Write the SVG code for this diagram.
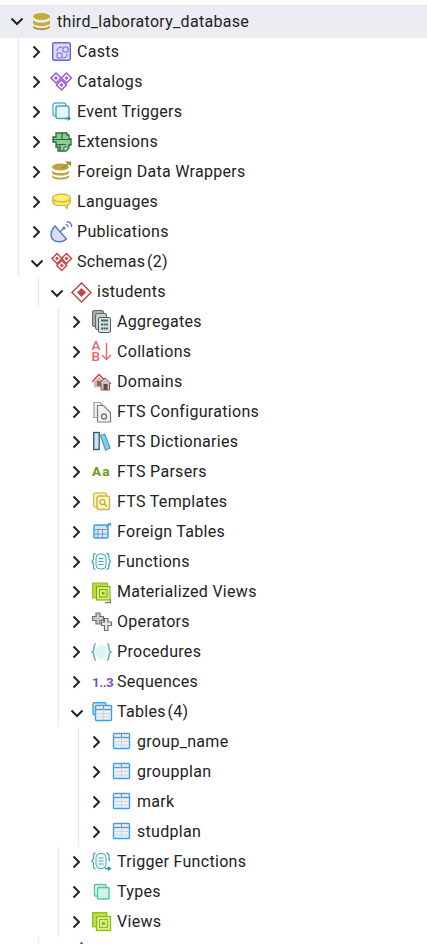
<svg xmlns="http://www.w3.org/2000/svg" width="427" height="944" viewBox="0 0 427 944">
<style>
text{font-family:Roboto,"Liberation Sans",sans-serif;font-size:16px;fill:#222;letter-spacing:.3px}
text.n{word-spacing:-2.500px}
.g{stroke:#e8eaf1;stroke-width:1.500;fill:none}
.c{stroke:#1a2433;stroke-width:2;fill:none}
</style>
<defs>
<path id="r" class="c" d="M-3.500-5.500 2 0-3.500 5.500"/>
<path id="d" class="c" d="M-5.500-2.500 0 3 5.500-2.500"/>
<g id="tbl"><rect x="-8" y="-7.500" width="16" height="15" rx="1" fill="#eef1f4" stroke="#3f9fe8" stroke-width="1.400"/><path d="M-8-3.500H8" stroke="#3f9fe8" stroke-width="1.400"/><path d="M0-7.500V-3.500" stroke="#3f9fe8"/><path d="M-7 0.500H7M-7 4H7" stroke="#cfd4d8" stroke-width="1"/><path d="M0-3.500V7" stroke="#cfd4d8"/></g>
<g id="dia"><path d="M0-5 5 0 0 5-5 0Z" fill="none" stroke="currentColor" stroke-width="1.500"/><path d="M0-2 2 0 0 2-2 0Z" fill="currentColor"/></g>
</defs>
<rect x="0" y="5" width="427" height="33" fill="#ebedf2"/>
<g id="connectors">
<path class="g" d="M18.500 38V277M38.500 277V307M58.500 307V727M78.500 727V847M58.500 847V937M38.500 937V944"/>
</g>
<g id="node-db"><use href="#d" x="17" y="21"/><ellipse cx="41.500" cy="16.500" rx="8.500" ry="3.500" fill="#c5ac3a"/><path d="M33 20c2 3.500 15 3.500 17 0v3.500c-2 3.500-15 3.500-17 0Z" fill="#c5ac3a"/><path d="M33 25.500c2 3.500 15 3.500 17 0v2c-2 3.500-15 3.500-17 0Z" fill="#b09a30"/><text x="57" y="27">third_laboratory_database</text></g>
<g id="node-casts"><use href="#r" x="37" y="52"/><rect x="52.700" y="42.700" width="17.600" height="17.600" rx="2" fill="#dcd9f7" stroke="#6a63cf" stroke-width="1.400"/><rect x="57" y="53" width="5" height="5" rx="1" fill="none" stroke="#6a63cf"/><rect x="63" y="47" width="5" height="5" rx="1" fill="none" stroke="#6a63cf"/><path d="M57 51c0-3 2-4 5-4M67 54c0 2-1 4-4 4" fill="none" stroke="#6a63cf"/><text x="77" y="57">Casts</text></g>
<g id="node-catalogs"><use href="#r" x="37" y="82"/><g color="#9c59c9"><use href="#dia" x="56" y="78"/><use href="#dia" x="66.500" y="78"/><use href="#dia" x="61.500" y="85"/></g><text x="77" y="87">Catalogs</text></g>
<g id="node-event-triggers"><use href="#r" x="37" y="112"/><rect x="53" y="103" width="13" height="13" rx="2.500" fill="#eef9fa" stroke="#5eb5c4" stroke-width="1.400"/><rect x="56" y="106" width="13" height="12.500" rx="2" fill="#e6f7f8" stroke="#4ba3b5" stroke-width="1.400"/><path d="M65 118.500h4" stroke="#2d8ca3" stroke-width="1.500"/><path d="M68 116l3 2.500-3 2.500Z" fill="#2d8ca3"/><text x="77" y="117">Event Triggers</text></g>
<g id="node-extensions"><use href="#r" x="37" y="142"/><path d="M56 133h11v2h2v4h2v6h-2v3l-3 3h-8v-4h-2v-5h-3v-5h3Z" fill="#8ccb94" stroke="#2a6b35" stroke-width="1.300"/><path d="M53 139.500H70M56 144.500H66M62 133.500V139M60 145v6" stroke="#2a6b35" stroke-width="1.200"/><path d="M64 151v-4h5" fill="#d9efd0" stroke="#2a6b35"/><text x="77" y="147">Extensions</text></g>
<g id="node-fdw"><use href="#r" x="37" y="172"/><ellipse cx="60.500" cy="167" rx="8.500" ry="3.500" fill="#bca53c"/><path d="M52 170.500c2 3.500 15 3.500 17 0v2.500c-2 3.500-15 3.500-17 0ZM52 175c2 3.500 15 3.500 17 0v2c-2 3.500-15 3.500-17 0Z" fill="#bca53c"/><path d="M63 168l6-5" stroke="#a08c2c" stroke-width="1.600" fill="none"/><path d="M65 161.500h6v5Z" fill="#a08c2c"/><text x="77" y="177">Foreign Data Wrappers</text></g>
<g id="node-languages"><use href="#r" x="37" y="202"/><path d="M52.500 200c0 3 2 5 4.500 5.500h8l2 3 .5-3.500c2-.5 3-3 3-5Z" fill="#fbe96a" stroke="#c4b23a" stroke-width="1.200"/><ellipse cx="61.500" cy="198" rx="9" ry="3.800" fill="#fdf07a" stroke="#c4b23a" stroke-width="1.200"/><text x="77" y="207">Languages</text></g>
<g id="node-publications"><use href="#r" x="37" y="232"/><path d="M55 226c-5 5-5 11-1.500 14s10 2 13-1Z" fill="#d5deef" stroke="#5c76b5" stroke-width="1.400"/><path d="M60 232l4-4" stroke="#5c76b5" stroke-width="1.200"/><path d="M65.500 225c1-1 2.500 0 2.500 2M66.500 222c3-1 5.500 2 5 5" stroke="#5c76b5" fill="none" stroke-width="1.200"/><circle cx="64" cy="228" r="1.500" fill="#5c76b5"/><text x="77" y="237">Publications</text></g>
<g id="node-schemas"><use href="#d" x="37" y="263"/><g color="#c5474c"><use href="#dia" x="57" y="258.500"/><use href="#dia" x="66.500" y="258.500"/><use href="#dia" x="61.700" y="265.500"/></g><text class="n" x="77" y="267">Schemas (2)</text></g>
<g id="node-istudents"><use href="#d" x="57" y="293"/><path d="M81.500 283 91 292.500 81.500 302 72 292.500Z" fill="none" stroke="#b94a4f" stroke-width="1.500"/><path d="M81.500 288 86 292.500 81.500 297 77 292.500Z" fill="#c5474c"/><text x="97" y="297">istudents</text></g>
<g id="node-aggregates"><use href="#r" x="77" y="322"/><rect x="92.500" y="310.500" width="11" height="16" rx="1.500" fill="#a9aeb0" stroke="#5f686b"/><rect x="95.500" y="313.500" width="11" height="16" rx="1.500" fill="#c6cbcc" stroke="#5f686b"/><rect x="98.500" y="317.500" width="12" height="15" rx="1.500" fill="#d7e4e6" stroke="#4f5b5e"/><path d="M101 320.500h7" stroke="#3f6b5a" stroke-width="2"/><path d="M101 324.500h7M101 328.500h7" stroke="#4f5b5e" stroke-width="2" stroke-dasharray="2 .5"/><text x="117" y="327">Aggregates</text></g>
<g id="node-collations"><use href="#r" x="77" y="352"/><text style="font-size:13.500px;fill:#e2686c;font-weight:500;letter-spacing:0"><tspan x="91.500" y="350">A</tspan><tspan x="91.500" y="361">B</tspan></text><path d="M106.500 343V359.500M102 355l4.500 4.500 4.500-4.500" stroke="#e2686c" stroke-width="1.400" fill="none"/><text x="117" y="357">Collations</text></g>
<g id="node-domains"><use href="#r" x="77" y="382"/><path d="M92 382l7-7.500 5.500 5.500" fill="none" stroke="#c5474c" stroke-width="1.500"/><path d="M94 381.500l5-4.500 4 3.500v7H94Z" fill="#cdb9a8"/><rect x="97" y="381" width="4" height="5" fill="#8a6a48"/><path d="M100 382.500l5-4.500 6 5.500h-1.500v6.500H101v-6.500Z" fill="#c3c8ca" stroke="#a94a4f"/><rect x="103.500" y="384" width="4" height="6" fill="#6d4b32"/><text x="117" y="387">Domains</text></g>
<g id="node-fts-config"><use href="#r" x="77" y="412"/><path d="M94 402.500h6l3 3v12h-9Z" fill="#f3f3f3" stroke="#9a9fa1" stroke-width="1.200"/><path d="M97.500 405.500h6l7 7v9.500H97.500Z" fill="#f3f3f3" stroke="#777c7e" stroke-width="1.200"/><circle cx="104" cy="416.500" r="2.500" fill="none" stroke="#777c7e" stroke-width="1.500"/><text x="117" y="417">FTS Configurations</text></g>
<g id="node-fts-dict"><use href="#r" x="77" y="442"/><rect x="93.700" y="432.500" width="5.500" height="17" fill="#cfe2ee" stroke="#34556e" stroke-width="1.300"/><path d="M100.500 435.500l4-1.500 5.500 14-4.500 2Z" fill="#8fcbe6" stroke="#3f9fcf" stroke-width="1.300"/><text x="117" y="447">FTS Dictionaries</text></g>
<g id="node-fts-parsers"><use href="#r" x="77" y="472"/><text x="92" y="476" style="font-size:13.500px;font-weight:700;fill:#6a9a12;letter-spacing:1.300px">Aa</text><text x="117" y="477">FTS Parsers</text></g>
<g id="node-fts-templates"><use href="#r" x="77" y="502"/><rect x="93.700" y="493" width="12.500" height="14" rx="2" fill="#fdf7c8" stroke="#d6c24a" stroke-width="1.400"/><rect x="97" y="496" width="12.500" height="13.500" rx="2" fill="#fdf7c8" stroke="#c9b53a" stroke-width="1.400"/><circle cx="102.500" cy="502" r="2.500" fill="none" stroke="#b8a62e" stroke-width="1.200"/><path d="M104.500 504l2.500 2.500" stroke="#b8a62e" stroke-width="1.200"/><text x="117" y="507">FTS Templates</text></g>
<g id="node-foreign-tables"><use href="#r" x="77" y="532"/><rect x="94" y="525" width="14" height="13" rx="1" fill="#cfe6fa" stroke="#3f9fe8" stroke-width="1.500"/><rect x="98" y="530" width="9" height="7" fill="#e4e7ea"/><path d="M98 529V538M102.500 530V538M94 529.500H108M94 534H108" stroke="#3f9fe8" stroke-width=".9"/><path d="M106 527l4-3.500" stroke="#3f9fe8" stroke-width="1.200" fill="none"/><path d="M107.500 523h3.500v3.500Z" fill="#3f9fe8"/><text x="117" y="537">Foreign Tables</text></g>
<g id="node-functions"><use href="#r" x="77" y="562"/><path d="M95.500 553.500c-2.500 0-2 3-2 4.500 0 2-1.500 3.500-1.500 3.500s1.500 1 1.500 3.500c0 1.500-.5 4.500 2 4.500M106.500 553.500c2.500 0 2.500 3 2.500 4.500 0 2 1.500 3.500 1.500 3.500s-1.500 1-1.500 3.500c0 1.500 0 4.500-2.500 4.500" fill="none" stroke="#4ba3b5" stroke-width="1.300"/><rect x="96" y="554" width="10" height="15" rx="4" fill="#eef9fa" stroke="#4ba3b5" stroke-width="1"/><path d="M98.500 558.500h5M98.500 561.500h5M98.500 564.500h5" stroke="#4ba3b5" stroke-width="1.200"/><text x="117" y="567">Functions</text></g>
<g id="node-mat-views"><use href="#r" x="77" y="592"/><rect x="92.500" y="583" width="15" height="15" fill="#b5dc3f" stroke="#8ebc1f"/><rect x="96.500" y="586.500" width="13.500" height="13.500" fill="#d4ec7a" stroke="#7fa818"/><rect x="99.500" y="589.500" width="7.500" height="7.500" fill="none" stroke="#7fa818"/><rect x="102" y="592" width="2.500" height="2.500" fill="#7fa818"/><path d="M105 602.500h5.500v-3" stroke="#7a8a50" fill="none" stroke-width="1.300"/><text x="117" y="597">Materialized Views</text></g>
<g id="node-operators"><use href="#r" x="77" y="622"/><path d="M92.500 616.500h3.500v-3.500h4v3.500h3.500v4h-3.500v3.500h-4v-3.500h-3.500Z" fill="#c6cacb" stroke="#6b7173" stroke-width="1.200"/><path d="M101.500 622h3v-3.500h3.500v3.500h3.500v3.500h-3.500v5h-3.500v-5h-3Z" fill="#e5e7e8" stroke="#6b7173" stroke-width="1.200"/><text x="117" y="627">Operators</text></g>
<g id="node-procedures"><use href="#r" x="77" y="652"/><ellipse cx="101.500" cy="652" rx="6.500" ry="7.500" fill="#dff5f5"/><path d="M96 643.500c-2.500 1-2 4-2 5.500s-2 3-2 3 2 1 2 3 0 4.500 2 5.500M107 643.500c2.500 1 2 4 2 5.500s2 3 2 3-2 1-2 3 0 4.500-2 5.500" fill="none" stroke="#4ba3b5" stroke-width="1.300"/><text x="117" y="657">Procedures</text></g>
<g id="node-sequences"><use href="#r" x="77" y="682"/><text x="92" y="687" style="font-size:13.500px;font-weight:700;fill:#7b55c4;letter-spacing:-.5px">1..3</text><text x="117" y="687">Sequences</text></g>
<g id="node-tables"><use href="#d" x="77" y="713"/><rect x="93" y="702.700" width="13" height="12" rx="1" fill="#d8eafa" stroke="#3f9fe8" stroke-width="1.400"/><use href="#tbl" x="103.500" y="713"/><text class="n" x="117" y="717">Tables (4)</text></g>
<g id="node-group-name"><use href="#r" x="97" y="742"/><use href="#tbl" x="121.500" y="741"/><text x="137" y="747">group_name</text></g>
<g id="node-groupplan"><use href="#r" x="97" y="772"/><use href="#tbl" x="121.500" y="771"/><text x="137" y="777">groupplan</text></g>
<g id="node-mark"><use href="#r" x="97" y="802"/><use href="#tbl" x="121.500" y="801"/><text x="137" y="807">mark</text></g>
<g id="node-studplan"><use href="#r" x="97" y="832"/><use href="#tbl" x="121.500" y="831"/><text x="137" y="837">studplan</text></g>
<g id="node-trigger-functions"><use href="#r" x="77" y="862"/><path d="M95.500 853c-2.500 0-2 3-2 4.500 0 2-1.500 3.500-1.500 3.500s1.500 1 1.500 3.500c0 1.500-.5 4.500 2 4.500M106.500 853c2.500 0 2.500 3 2.500 4.500 0 2 1 3.500 1 3.500" fill="none" stroke="#4ba3b5" stroke-width="1.300"/><rect x="96" y="853.500" width="10" height="15" rx="4" fill="#eef9fa" stroke="#4ba3b5" stroke-width="1"/><path d="M98.500 858h5M98.500 861h5M98.500 864h5" stroke="#4ba3b5" stroke-width="1.200"/><path d="M105 868.500h4" stroke="#2d8ca3" stroke-width="1.500"/><path d="M108 866l3.500 2.500-3.500 2.500Z" fill="#2d8ca3"/><text x="117" y="867">Trigger Functions</text></g>
<g id="node-types"><use href="#r" x="77" y="892"/><rect x="94.500" y="884.500" width="11.500" height="11.500" rx="1" fill="#e2faef" stroke="#55c79a" stroke-width="1.400"/><rect x="97.500" y="887.500" width="11.500" height="11.500" rx="1" fill="#cff6e4" stroke="#55c79a" stroke-width="1.400"/><text x="117" y="897">Types</text></g>
<g id="node-views"><use href="#r" x="77" y="922"/><rect x="92.700" y="912.700" width="14" height="14" fill="#bfe24a" stroke="#8ebc1f" stroke-width="1.300"/><rect x="96.500" y="916.500" width="14" height="14" fill="#d8ef82" stroke="#8ebc1f" stroke-width="1.300"/><rect x="99.500" y="919.500" width="8" height="8" fill="none" stroke="#8ebc1f"/><rect x="102" y="922" width="3" height="3" fill="#8ebc1f"/><text x="117" y="927">Views</text></g>
<path id="next-node-tip" d="M81.500 941.500 83.500 944H79.500Z" fill="#c5474c"/>
</svg>
